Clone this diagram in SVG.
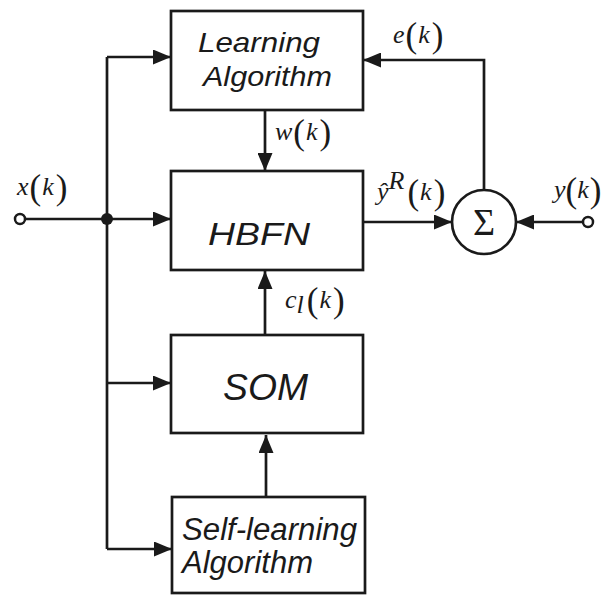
<svg xmlns="http://www.w3.org/2000/svg" width="606" height="595" viewBox="0 0 606 595">
<defs>
<marker id="arr" markerUnits="userSpaceOnUse" markerWidth="19" markerHeight="15" refX="18" refY="7.5" orient="auto">
<path d="M0,0 L18,7.5 L0,15 Z" fill="#1a1a1a"/>
</marker>
</defs>
<style>
.box{fill:#fff;stroke:#1a1a1a;stroke-width:2.7}
.ln{fill:none;stroke:#1a1a1a;stroke-width:2.7}
.lab{font-family:"Liberation Sans",Arial,sans-serif;font-style:italic;fill:#1a1a1a}
.m{font-family:"Liberation Serif","Times New Roman",serif;font-style:italic;fill:#1a1a1a;font-size:26px}
.p{font-family:"Liberation Serif","Times New Roman",serif;font-style:normal;fill:#1a1a1a;font-size:35px}
</style>
<rect width="606" height="595" fill="#fff"/>
<g id="connectors">
<path class="ln" d="M107,57 L107,549"/>
<path class="ln" d="M107,57 L171,57" marker-end="url(#arr)"/>
<path class="ln" d="M20,219 L171,219" marker-end="url(#arr)"/>
<path class="ln" d="M107,383 L171,383" marker-end="url(#arr)"/>
<path class="ln" d="M107,549 L172,549" marker-end="url(#arr)"/>
<circle cx="107" cy="219" r="6" fill="#1a1a1a"/>
<circle cx="20" cy="219" r="5" fill="#fff" stroke="#1a1a1a" stroke-width="2.5"/>
<path class="ln" d="M265,110 L265,171" marker-end="url(#arr)"/>
<path class="ln" d="M265,335 L265,271" marker-end="url(#arr)"/>
<path class="ln" d="M266,498 L266,435" marker-end="url(#arr)"/>
<path class="ln" d="M363,222 L452,222" marker-end="url(#arr)"/>
<path class="ln" d="M583,222 L516,222" marker-end="url(#arr)"/>
<circle cx="588" cy="222" r="5" fill="#fff" stroke="#1a1a1a" stroke-width="2.5"/>
<path class="ln" d="M484,190 L484,60 L363,60" marker-end="url(#arr)"/>
</g>
<g id="learning">
<rect class="box" x="171" y="11" width="192" height="99"/>
<text class="lab" x="198" y="52" font-size="28" textLength="122" lengthAdjust="spacingAndGlyphs">Learning</text>
<text class="lab" x="203" y="86" font-size="28" textLength="129" lengthAdjust="spacingAndGlyphs">Algorithm</text>
</g>
<g id="hbfn">
<rect class="box" x="171" y="171" width="192" height="99"/>
<text class="lab" x="208" y="245" font-size="32" textLength="102" lengthAdjust="spacingAndGlyphs">HBFN</text>
</g>
<g id="som">
<rect class="box" x="171" y="335" width="192" height="98"/>
<text class="lab" x="223" y="400" font-size="37" textLength="85" lengthAdjust="spacingAndGlyphs">SOM</text>
</g>
<g id="selflearning">
<rect class="box" x="172" y="497" width="193" height="96"/>
<text class="lab" x="182" y="540" font-size="31" textLength="175" lengthAdjust="spacingAndGlyphs">Self-learning</text>
<text class="lab" x="182" y="573" font-size="31" textLength="131" lengthAdjust="spacingAndGlyphs">Algorithm</text>
</g>
<g id="sum">
<circle cx="484" cy="222" r="32" fill="#fff" stroke="#1a1a1a" stroke-width="2.7"/>
<text x="484" y="235" text-anchor="middle" font-family="'Liberation Serif','Times New Roman',serif" font-size="38" fill="#1a1a1a">Σ</text>
</g>
<g id="labels">
<text x="17" y="195"><tspan class="m">x</tspan><tspan class="p" dy="4" dx="1">(</tspan><tspan class="m" dy="-4" dx="1">k</tspan><tspan class="p" dy="4" dx="2">)</tspan></text>
<text x="393" y="43"><tspan class="m">e</tspan><tspan class="p" dy="4" dx="1">(</tspan><tspan class="m" dy="-4" dx="1">k</tspan><tspan class="p" dy="4" dx="2">)</tspan></text>
<text x="275" y="140"><tspan class="m">w</tspan><tspan class="p" dy="4" dx="1">(</tspan><tspan class="m" dy="-4" dx="1">k</tspan><tspan class="p" dy="4" dx="2">)</tspan></text>
<text x="285" y="308"><tspan class="m">c</tspan><tspan class="m" font-size="17" dy="5">l</tspan><tspan class="p" dy="-1" dx="3">(</tspan><tspan class="m" dy="-4" dx="1">k</tspan><tspan class="p" dy="4" dx="2">)</tspan></text>
<text x="377" y="200"><tspan class="m">ŷ</tspan><tspan class="m" font-size="17" dy="-11">R</tspan><tspan class="p" dy="15" dx="3">(</tspan><tspan class="m" dy="-4" dx="1">k</tspan><tspan class="p" dy="4" dx="2">)</tspan></text>
<text x="554" y="198"><tspan class="m">y</tspan><tspan class="p" dy="4">(</tspan><tspan class="m" dy="-4">k</tspan><tspan class="p" dy="4" dx="1">)</tspan></text>
</g>
</svg>
